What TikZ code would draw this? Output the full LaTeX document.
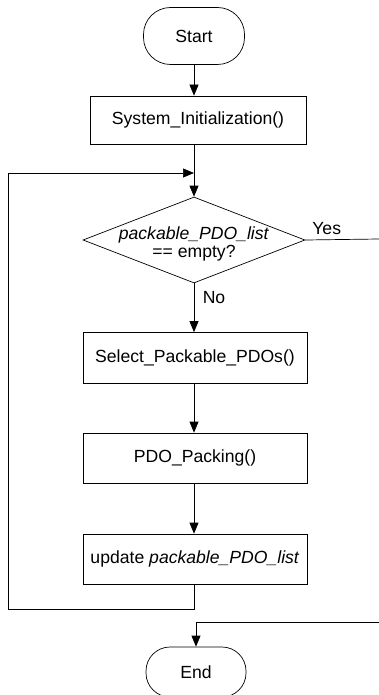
\documentclass[tikz,border=0pt]{standalone}
\usepackage{fontspec}
\setmainfont{Liberation Sans}
\usetikzlibrary{arrows.meta,shapes.geometric}
\begin{document}
\begin{tikzpicture}[x=1pt,y=-1pt,
  font=\fontsize{17.6}{19}\selectfont,
  line width=0.7pt,
  term/.style={draw, rectangle, rounded corners=27pt, minimum width=101pt, minimum height=57pt, inner sep=0pt},
  procbox/.style={draw, rectangle, minimum width=224pt, minimum height=50pt, inner sep=0pt},
  arr/.style={-{Triangle[length=11pt,width=9pt]}}]
\useasboundingbox (0,0) rectangle (379,695);
\node[term] (start) at (194,36) {Start};
\node[procbox, minimum width=216pt, minimum height=48pt] (sys) at (198,120) {System\_Initialization()};
\node[draw, diamond, minimum width=222pt, minimum height=86pt, inner sep=0pt] (dec) at (194,240) {};
\node[align=center, inner sep=0pt] (dectext) at (194,244) {\textit{packable\_PDO\_list}\\[-1pt]== empty?};
\node[procbox, minimum height=51pt] (sel) at (195,358) {Select\_Packable\_PDOs()};
\node[procbox] (pdo) at (195,458) {PDO\_Packing()};
\node[procbox] (upd) at (195,559) {update \textit{packable\_PDO\_list}};
\node[term, minimum width=100pt, minimum height=50pt, rounded corners=24pt] (end) at (196,672) {End};
\node[anchor=south west, inner sep=0pt] (yes) at (312,235) {Yes};
\node[inner sep=0pt] (no) at (214,298) {No};
\coordinate (j) at (194,173);
\coordinate (lb) at (8,609);
\coordinate (lt) at (8,173);
\coordinate (yesend) at (379,239);
\coordinate (endin) at (379,622);
\draw[arr] (start.south) -- (start.south |- sys.north);
\draw[arr] (start.south |- sys.south) -- (dec.north);
\draw[arr] (dec.south) -- (dec.south |- sel.north);
\draw[arr] (dec.south |- sel.south) -- (dec.south |- pdo.north);
\draw[arr] (dec.south |- pdo.south) -- (dec.south |- upd.north);
\draw[arr] (dec.south |- upd.south) -- (dec.south |- lb) -- (lb) -- (lt) -- (j);
\draw (dec.east) -- (yesend);
\draw[arr] (endin) -| (end.north);
\end{tikzpicture}
\end{document}
